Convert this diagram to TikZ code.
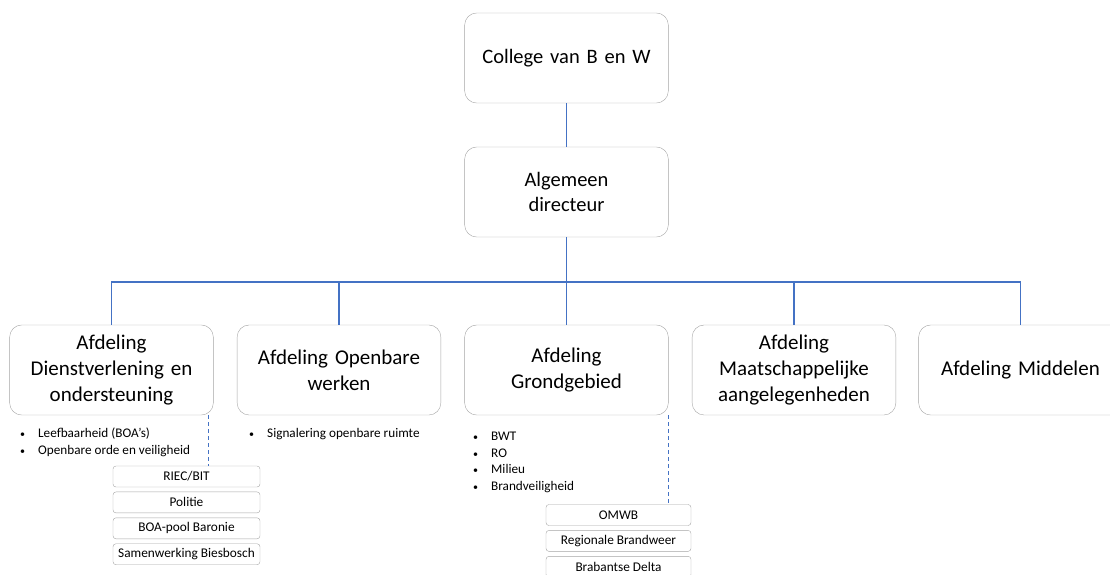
\documentclass[tikz,border=0pt]{standalone}
\usepackage{fontspec}
\setmainfont{Carlito}
\usetikzlibrary{positioning}
\definecolor{boxgray}{HTML}{A5A5A5}
\definecolor{linkblue}{HTML}{4472C4}
\tikzset{box/.style = {draw=boxgray, rounded corners=12pt, minimum width=203pt,
                       minimum height=90pt, text width=197pt, align=center,
                       font=\fontsize{21}{26}\selectfont}}
\tikzset{subbox/.style = {draw=boxgray, rounded corners=3pt, minimum width=147pt,
                          minimum height=21pt, inner sep=1pt,
                          font=\fontsize{13.3}{15}\selectfont}}
\tikzset{link/.style = {draw=linkblue, line width=1.1pt}}
\tikzset{dashlink/.style = {draw=linkblue, line width=0.9pt, dash pattern=on 4pt off 3pt}}
\tikzset{bullets/.style = {anchor=north west, inner sep=0pt, align=left,
                           font=\fontsize{13.2}{16.5}\selectfont}}
\newcommand{\bul}{\makebox[18pt][l]{\fontsize{10}{10}\selectfont\textbullet}}

\begin{document}
\begin{tikzpicture}[x=1pt, y=-1pt, node distance=4.5pt]
    \useasboundingbox (0,0) rectangle (1110,574);
    \clip (0,0) rectangle (1110,574);

    \node [box, font=\fontsize{20.5}{25}\selectfont] (college) at (566.5, 58) {College van B en W};
    \node [box, font=\fontsize{20.5}{25}\selectfont] (directeur) at (566.5, 192) {Algemeen\\directeur};

    \node [box] (dienst) at (111.5, 370) {Afdeling\\Dienstverlening en\\ondersteuning};
    \node [box] (openbaar) at (339, 370) {Afdeling Openbare\\werken};
    \node [box] (grond) at (566.5, 370) {Afdeling\\Grondgebied};
    \node [box] (maatsch) at (794, 370) {Afdeling\\Maatschappelijke\\aangelegenheden};
    \node [box] (middelen) at (1020.5, 370) {Afdeling Middelen};

    \coordinate (bus) at (566.5, 282);
    \draw [link] (college) -- (directeur);
    \draw [link] (directeur) -- (bus);
    \foreach \dep in {dienst, openbaar, grond, maatsch, middelen}
        \draw [link] (bus) -| (\dep.north);

    % taken per afdeling
    \node [bullets] (takendienst) at (20, 428) {\bul Leefbaarheid (BOA’s)\\\bul Openbare orde en veiligheid};
    \node [bullets] (takenopenbaar) at (249, 428) {\bul Signalering openbare ruimte};
    \node [bullets] (takengrond) at (473, 432)
        {\bul BWT\\\bul RO\\\bul Milieu\\\bul Brandveiligheid};

    % samenwerkingspartners
    \node [subbox] (riec) at (186.5, 476.5) {RIEC/BIT};
    \node [subbox, below=of riec] (politie) {Politie};
    \node [subbox, below=of politie] (boapool) {BOA-pool Baronie};
    \node [subbox, below=of boapool] (biesbosch) {Samenwerking Biesbosch};

    \node [subbox, minimum width=145pt] (omwb) at (618.5, 515) {OMWB};
    \node [subbox, minimum width=145pt, below=of omwb] (brandweer) {Regionale Brandweer};
    \node [subbox, minimum width=145pt, below=of brandweer] (delta) {Brabantse Delta};

    \draw [dashlink] ([xshift=-5pt]dienst.south east) -- ([xshift=-5pt]dienst.south east |- riec.north);
    \draw [dashlink] (grond.south east) -- (grond.south east |- omwb.north);
\end{tikzpicture}
\end{document}
